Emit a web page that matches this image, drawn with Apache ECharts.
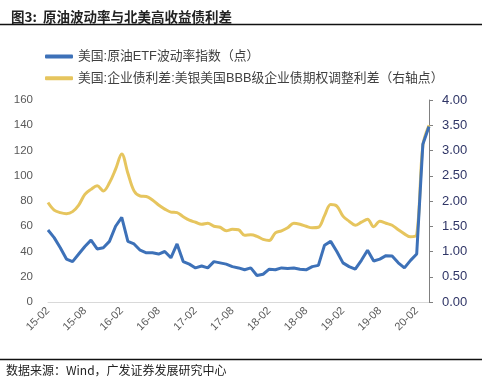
<!DOCTYPE html>
<html>
<head>
<meta charset="utf-8">
<script src="https://cdn.jsdelivr.net/npm/echarts@6/dist/echarts.min.js"></script>
<style>
html,body{margin:0;padding:0;background:#fff;}
#c{width:482px;height:381px;}
</style>
</head>
<body>
<div id="c"></div>
<script>
const categories = ['15-02','15-03','15-04','15-05','15-06','15-07','15-08','15-09','15-10','15-11','15-12','16-01',
'16-02','16-03','16-04','16-05','16-06','16-07','16-08','16-09','16-10','16-11','16-12','17-01',
'17-02','17-03','17-04','17-05','17-06','17-07','17-08','17-09','17-10','17-11','17-12','18-01',
'18-02','18-03','18-04','18-05','18-06','18-07','18-08','18-09','18-10','18-11','18-12','19-01',
'19-02','19-03','19-04','19-05','19-06','19-07','19-08','19-09','19-10','19-11','19-12','20-01',
'20-02','20-03','20-04'];
const oilVol = [57,51,43,34,32,38,44,49,42,43,48,60,
67,48,46,41,39,39,38,40,35,46,32,30,
27,28.5,27,32,31,30,28,27,25.5,27,21,22,
26,25.5,27,26.5,27,26,25.5,28,29,45,48,40,
31,28,26,33,41,32.5,34,36.7,36.4,31,27,33,
38,125,139];
const bbbSpread = [1.97,1.82,1.77,1.75,1.79,1.92,2.13,2.23,2.30,2.20,2.36,2.63,
2.93,2.55,2.20,2.10,2.09,2.02,1.92,1.84,1.78,1.77,1.69,1.62,
1.58,1.54,1.56,1.50,1.48,1.41,1.44,1.43,1.32,1.33,1.30,1.24,
1.22,1.37,1.41,1.47,1.56,1.54,1.50,1.47,1.48,1.71,1.93,1.90,
1.70,1.60,1.52,1.58,1.64,1.49,1.60,1.56,1.52,1.43,1.35,1.29,
1.33,3.1,3.5];
const seriesNames = ['美国:原油ETF波动率指数（点）','美国:企业债利差:美银美国BBB级企业债期权调整利差（右轴点）'];
const titleText = '图3:  原油波动率与北美高收益债利差';
const sourceText = '数据来源：Wind，广发证券发展研究中心';

const FONT = "'Liberation Sans','Noto Sans CJK SC',sans-serif";
const chart = echarts.init(document.getElementById('c'), null, {renderer:'canvas'});
chart.setOption({
  animation:false,
  backgroundColor:'#fff',
  title:{text:titleText,left:6,top:5,textStyle:{fontSize:13.5,fontWeight:'bold',color:'#222',fontFamily:"'Noto Sans CJK SC',sans-serif"}},
  graphic:[
    {type:'line',shape:{x1:0,y1:24.5,x2:482,y2:24.5},style:{stroke:'#111',lineWidth:1.5}},
    {type:'line',shape:{x1:0,y1:359.5,x2:482,y2:359.5},style:{stroke:'#111',lineWidth:1.5}},
    {type:'text',left:6,top:364,style:{text:sourceText,fontSize:12,fill:'#222',fontFamily:"'Noto Sans CJK SC',sans-serif"}}
  ],
  legend:{
    orient:'vertical',left:40,top:45,itemWidth:28,itemHeight:4,itemGap:9,icon:'roundRect',
    textStyle:{fontSize:12.8,color:'#404040',fontFamily:FONT},
    data:seriesNames
  },
  grid:{left:48,right:53,top:100,bottom:79},
  xAxis:{
    type:'category',data:categories,boundaryGap:false,
    axisLine:{lineStyle:{color:'#d9d9d9',width:1}},
    axisTick:{show:false},
    axisLabel:{interval:5,rotate:45,fontSize:11,color:'#595959',fontFamily:FONT,margin:7}
  },
  yAxis:[
    {type:'value',min:0,max:160,interval:20,
     axisLine:{show:false},axisTick:{show:false},splitLine:{show:false},
     axisLabel:{fontSize:11.5,color:'#595959',fontFamily:FONT,margin:15}},
    {type:'value',min:0,max:4,interval:0.5,position:'right',
     axisLine:{show:true,lineStyle:{color:'#808080'}},
     axisTick:{show:true,inside:false,length:4,lineStyle:{color:'#808080'}},
     splitLine:{show:false},
     axisLabel:{fontSize:13,color:'#2f3566',fontFamily:FONT,margin:13,formatter:v=>v.toFixed(2)}}
  ],
  series:[
    {name:seriesNames[0],type:'line',yAxisIndex:0,data:oilVol,showSymbol:false,symbol:'none',
     lineStyle:{color:'#3d71b8',width:3},itemStyle:{color:'#3d71b8'},z:3},
    {name:seriesNames[1],type:'line',yAxisIndex:1,data:bbbSpread,showSymbol:false,symbol:'none',smooth:0.35,
     lineStyle:{color:'#e6c55e',width:3},itemStyle:{color:'#e6c55e'},z:2}
  ]
});
</script>
</body>
</html>
